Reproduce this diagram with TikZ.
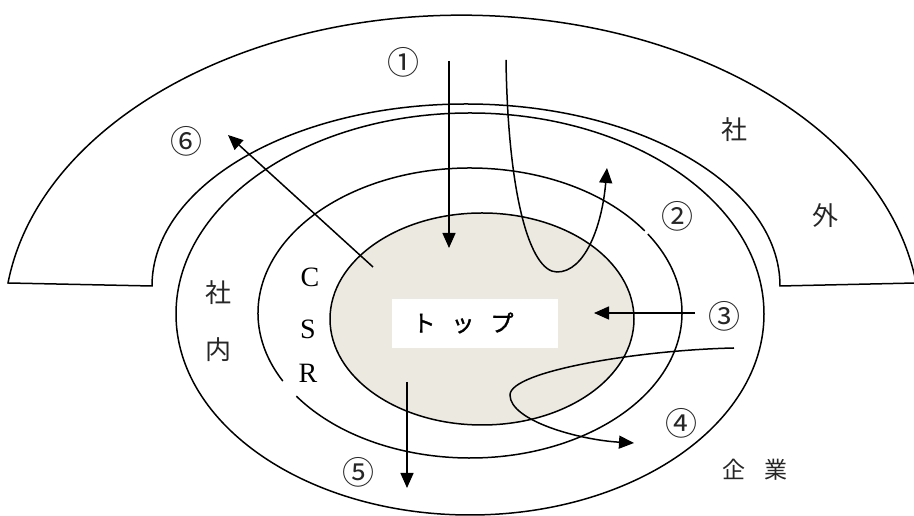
\documentclass[tikz,border=0pt]{standalone}
\usepackage{fontspec}
\newfontfamily\jp{Noto Sans CJK JP}
\newfontfamily\jpb[FakeBold=1.5]{Noto Sans CJK JP}
\newfontfamily\serifl{Liberation Serif}
\usetikzlibrary{arrows.meta,calc}
\definecolor{topfill}{RGB}{236,234,224}
\begin{document}
\begin{tikzpicture}[x=1pt,y=1pt,
  ln/.style={line width=1.5pt, black},
  arr/.style={line width=1.5pt, -{Triangle[length=15pt,width=13pt]}},
  num/.style={font=\jp\fontsize{32}{32}\selectfont, inner sep=0pt, text=black!85},
  jlab/.style={font=\jp\fontsize{26}{26}\selectfont, inner sep=0pt, text=black!85},
  elab/.style={font=\serifl\fontsize{28}{28}\selectfont, inner sep=0pt},
]
\useasboundingbox (0,0) rectangle (914,516);
% outer arch (社外)
\draw[ln] (8,233) arc[start angle=172.5, end angle=7.5, x radius=458, y radius=308]
  -- (780,230) arc[start angle=0, end angle=180, x radius=314, y radius=182] -- cycle;
% company ellipse
\draw[ln] (470,202) ellipse[x radius=294, y radius=201];
% CSR ellipse (two arcs)
\draw[ln] ($(470,203)+(34.5:212 and 145)$) arc[start angle=34.5, end angle=208, x radius=212, y radius=145];
\draw[ln] ($(470,203)+(215:212 and 145)$) arc[start angle=215, end angle=393, x radius=212, y radius=145];
% top ellipse
\draw[ln, fill=topfill] (482,197) ellipse[x radius=152, y radius=106];
% top box
\node[fill=white, minimum width=166pt, minimum height=49pt, inner sep=0pt] (topbox) at (475,192.5) {};
\node[font=\jpb\fontsize{23}{23}\selectfont, inner sep=0pt] (toptext) at (463,193) {ト\hspace{16pt}ッ\hspace{16pt}プ};
% arrow coordinates
\coordinate (a1s) at (449,455); \coordinate (a1e) at (449,268);
\coordinate (a2s) at (506,456); \coordinate (a2e) at (607,348);
\coordinate (a3s) at (695,203); \coordinate (a3e) at (594,203);
\coordinate (a4s) at (734,168); \coordinate (a4e) at (634,73);
\coordinate (a5s) at (407,134); \coordinate (a5e) at (407,28);
\coordinate (a6s) at (373,249); \coordinate (a6e) at (228,381);
\draw[arr] (a1s) -- (a1e);
\draw[arr] (a2s) .. controls (508,320) and (530,244) .. (557,244) .. controls (585,244) and (602,290) .. (a2e);
\draw[arr] (a3s) -- (a3e);
\draw[arr] (a4s) .. controls (640,166) and (510,145) .. (510,121) .. controls (510,95) and (580,76) .. (a4e);
\draw[arr] (a5s) -- (a5e);
\draw[arr] (a6s) -- (a6e);
% labels
\node[num] (n1) at (403,454) {①};
\node[num] (n2) at (677,300) {②};
\node[num] (n3) at (724,200) {③};
\node[num] (n4) at (681,93) {④};
\node[num] (n5) at (358,44) {⑤};
\node[num] (n6) at (186,375) {⑥};
\node[jlab] (sha) at (734,386) {社};
\node[jlab] (gai) at (825,300) {外};
\node[jlab] (sha2) at (218,223) {社};
\node[jlab] (nai) at (218,166) {内};
\node[jlab, font=\jp\fontsize{23}{23}\selectfont] (kigyo) at (755,46) {企\hspace{20pt}業};
\node[elab] (c) at (310,239) {C};
\node[elab] (s) at (308,187) {S};
\node[elab] (r) at (308,143) {R};
\end{tikzpicture}
\end{document}
